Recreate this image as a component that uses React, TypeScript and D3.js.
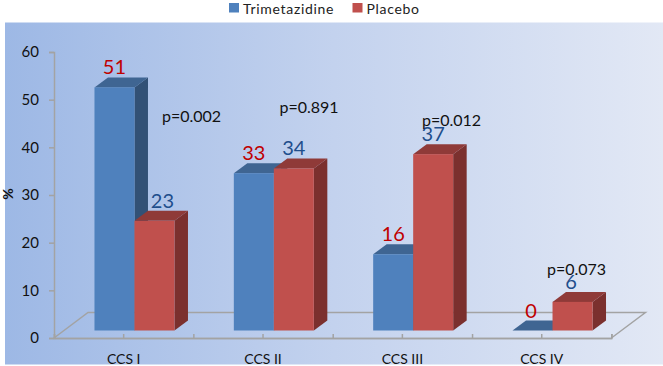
import { useEffect, useRef } from 'react';
import * as d3 from 'd3';

const categories = ['CCS I', 'CCS II', 'CCS III', 'CCS IV'];
const seriesNames = ['Trimetazidine', 'Placebo'];
const trimetazidine = [51, 33, 16, 0];
const placebo = [23, 34, 37, 6];
const pLabels = ['p=0.002', 'p=0.891', 'p=0.012', 'p=0.073'];
const yTicks = [0, 10, 20, 30, 40, 50, 60];

const width = 663;
const height = 366;
const font = 'Lato, sans-serif';

// 3d look of the bars: how far the floor and the side faces are pushed
const depthX = 13.5;
const depthY = 10;
const baseLift = 7.5;

const colors = [
  { front: '#4f81bd', top: '#3f6592', side: '#325176', label: '#c00000' },
  { front: '#c0504d', top: '#8f3a38', side: '#7b302e', label: '#1f4e8c' },
];

const App = () => {
  const svgRef = useRef<SVGSVGElement>(null);

  useEffect(() => {
    const svg = d3.select(svgRef.current);
    svg.selectAll('*').remove();

    const x = d3.scaleBand().domain(categories).range([54, 611.4]);
    const xEdges = d3.scaleLinear().domain([0, 4]).range([54, 611.4]);
    const y = d3.scaleLinear().domain([0, 60]).range([338, 52]);

    const grad = svg.append('defs').append('linearGradient').attr('id', 'bg');
    grad.append('stop').attr('offset', '0%').attr('stop-color', '#9db8e5');
    grad.append('stop').attr('offset', '50%').attr('stop-color', '#c3d2ee');
    grad.append('stop').attr('offset', '100%').attr('stop-color', '#e2e8f5');

    svg.append('rect')
      .attr('x', 5).attr('y', 22.5)
      .attr('width', width - 5).attr('height', 342)
      .attr('fill', 'url(#bg)');

    // floor
    const x0 = x.range()[0];
    const x1 = x.range()[1];
    const floorDx = 34;
    const floorTop = y(0) - 25.5;
    svg.append('path')
      .attr('d', `M${x0},${y(0)}L${x0 + floorDx},${floorTop}L${x1 + floorDx},${floorTop}L${x1},${y(0)}`)
      .attr('fill', 'none')
      .attr('stroke', '#a3a3a3')
      .attr('stroke-width', 1.5);

    // axes
    const yAxis = svg.append('g')
      .attr('transform', `translate(${x0},0)`)
      .call(d3.axisLeft(y).tickValues(yTicks).tickSize(5).tickPadding(10).tickSizeOuter(5));
    const xAxis = svg.append('g')
      .attr('transform', `translate(0,${y(0)})`)
      .call(d3.axisBottom(x).tickSize(-4).tickSizeOuter(0).tickPadding(0));
    const xEdgeAxis = svg.append('g')
      .attr('transform', `translate(0,${y(0)})`)
      .call(d3.axisBottom(xEdges).ticks(4).tickSize(-4).tickFormat(() => ''));

    [yAxis, xAxis, xEdgeAxis].forEach(g => {
      g.selectAll('.domain, line').attr('stroke', '#a3a3a3').attr('stroke-width', 1.5);
      g.selectAll('text').attr('fill', '#111').attr('font-family', font);
    });
    yAxis.selectAll('text').attr('font-size', 15);
    xAxis.selectAll('text')
      .attr('font-size', 14)
      .attr('dy', 0)
      .attr('y', 25.5);

    // bars
    const barW = 40;
    const rows = categories.flatMap((c, i) => [
      { c, s: 0, v: trimetazidine[i] },
      { c, s: 1, v: placebo[i] },
    ]);

    const bars = svg.append('g');
    rows.forEach(d => {
      const left = (x(d.c) as number) + x.bandwidth() / 2 - 29.2 + d.s * barW;
      const right = left + barW;
      const base = y(0) - baseLift;
      const topY = y(d.v) - baseLift;
      const col = colors[d.s];
      bars.append('path')
        .attr('d', `M${right},${topY}L${right + depthX},${topY - depthY}L${right + depthX},${base - depthY}L${right},${base}Z`)
        .attr('fill', col.side);
      bars.append('path')
        .attr('d', `M${left},${topY}L${left + depthX},${topY - depthY}L${right + depthX},${topY - depthY}L${right},${topY}Z`)
        .attr('fill', col.top);
      bars.append('rect')
        .attr('x', left).attr('y', topY)
        .attr('width', barW).attr('height', base - topY)
        .attr('fill', col.front);
      svg.append('text')
        .attr('x', left + barW / 2 + (d.c === 'CCS I' && d.s === 1 ? 8 : 0) - (d.c === 'CCS IV' ? 1.5 : 0))
        .attr('y', topY - 13)
        .attr('text-anchor', 'middle')
        .attr('font-family', font)
        .attr('font-size', 20)
        .attr('fill', col.label)
        .text(d.v);
    });

    // p values sit where the author dropped them on the slide
    const pX = [162, 279.5, 422, 547];
    const pY = [122, 113, 126, 275];
    pLabels.forEach((p, i) => {
      svg.append('text')
        .attr('x', pX[i]).attr('y', pY[i])
        .attr('font-family', font)
        .attr('font-size', 16)
        .attr('fill', '#111')
        .text(p);
    });

    // y title
    svg.append('text')
      .attr('transform', 'translate(13,194) rotate(-90)')
      .attr('text-anchor', 'middle')
      .attr('font-family', font)
      .attr('font-size', 14)
      .attr('font-weight', 700)
      .attr('fill', '#111')
      .text('%');

    // legend
    const legendX = [229, 352.5];
    seriesNames.forEach((name, i) => {
      svg.append('rect')
        .attr('x', legendX[i]).attr('y', 3)
        .attr('width', 10).attr('height', 9.5)
        .attr('fill', colors[i].front);
      svg.append('text')
        .attr('x', legendX[i] + 14).attr('y', 14)
        .attr('font-family', font)
        .attr('font-size', 14)
        .attr('letter-spacing', 0.7)
        .attr('fill', '#222')
        .text(name);
    });
  }, []);

  return (
    <svg
      ref={svgRef}
      width={width}
      height={height}
      style={{ position: 'absolute', left: 0, top: 0, background: '#fff' }}
    />
  );
};

export default App;
